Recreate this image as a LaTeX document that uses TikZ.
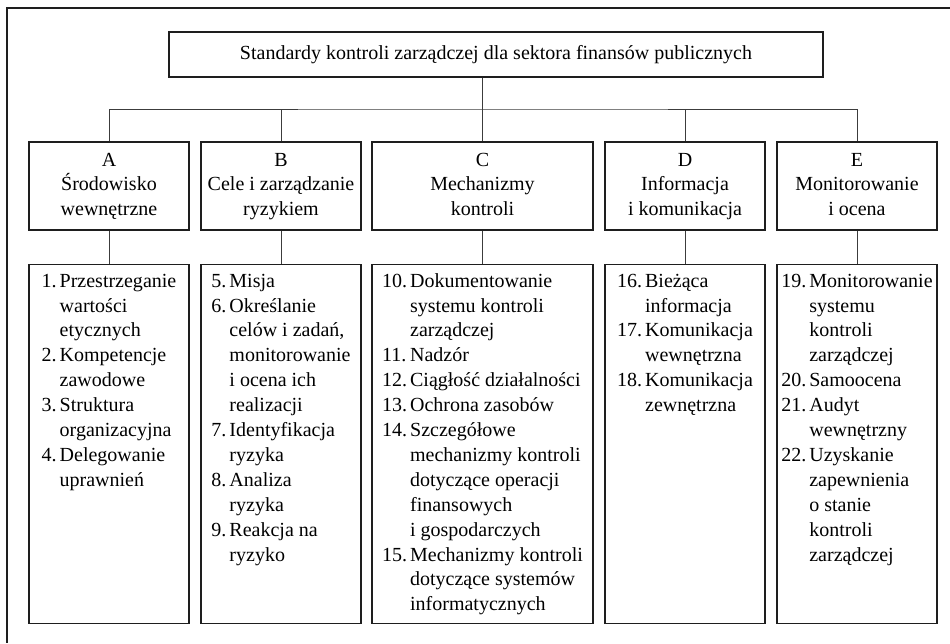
\documentclass[tikz,border=0pt]{standalone}
\usepackage{fontspec}
\setmainfont{Liberation Serif}
\usetikzlibrary{positioning}
\usepackage{xcolor}
\definecolor{FrameBlack}{HTML}{1E1E1E}
\definecolor{LinkGray}{HTML}{3C3C3C}
\newcommand{\chartfont}{\fontsize{20}{24.9}\selectfont}
\tikzset{
    % Box styles
    titlebox/.style={
        rectangle,
        draw=FrameBlack,
        line width=1.2pt,
        minimum width=654pt,
        minimum height=45pt,
        inner sep=0pt,
        align=center
    },
    areabox/.style={
        rectangle,
        draw=FrameBlack,
        line width=1.2pt,
        minimum width=160pt,
        minimum height=88pt,
        inner sep=0pt
    },
    listbox/.style={
        rectangle,
        draw=FrameBlack,
        line width=1.2pt,
        minimum width=160pt,
        minimum height=359pt,
        inner sep=0pt,
        anchor=north
    },
    listtext/.style={
        anchor=north,
        inner sep=0pt,
        yshift=-5.5pt
    },
    % Line styles
    link/.style={
        line width=1pt,
        draw=LinkGray
    },
    outerframe/.style={
        line width=1.6pt,
        draw=FrameBlack
    }
}

\begin{document}
\begin{tikzpicture}[x=1pt, y=-1pt, font=\chartfont]
    \useasboundingbox (0,0) rectangle (950,643);
    \draw[outerframe] (950,8) -- (7,8) -- (7,643);

    \node[titlebox] (title) at (496,54.5) {Standardy kontroli zarządczej dla sektora finansów publicznych};

    \node[areabox] (areaA) at (109,186) {\begin{tabular}{@{}c@{}}A\\Środowisko\\wewnętrzne\end{tabular}};
    \node[areabox] (areaB) at (281,186) {\begin{tabular}{@{}c@{}}B\\Cele i zarządzanie\\ryzykiem\end{tabular}};
    \node[areabox, minimum width=221pt] (areaC) at (482.5,186) {\begin{tabular}{@{}c@{}}C\\Mechanizmy\\kontroli\end{tabular}};
    \node[areabox] (areaD) at (685,186) {\begin{tabular}{@{}c@{}}D\\Informacja\\i komunikacja\end{tabular}};
    \node[areabox] (areaE) at (857,186) {\begin{tabular}{@{}c@{}}E\\Monitorowanie\\i ocena\end{tabular}};

    \node[listbox] (listA) at (109,264) {};
    \node[listbox] (listB) at (281,264) {};
    \node[listbox, minimum width=221pt] (listC) at (482.5,264) {};
    \node[listbox] (listD) at (685,264) {};
    \node[listbox] (listE) at (857,264) {};

    \node[listtext] (textA) at (listA.north) {\begin{tabular}{@{}l@{\hspace{3pt}}l@{}}
        1. & Przestrzeganie\\ & wartości\\ & etycznych\\
        2. & Kompetencje\\ & zawodowe\\
        3. & Struktura\\ & organizacyjna\\
        4. & Delegowanie\\ & uprawnień
    \end{tabular}};
    \node[listtext] (textB) at (listB.north) {\begin{tabular}{@{}l@{\hspace{3pt}}l@{}}
        5. & Misja\\
        6. & Określanie\\ & celów i zadań,\\ & monitorowanie\\ & i ocena ich\\ & realizacji\\
        7. & Identyfikacja\\ & ryzyka\\
        8. & Analiza\\ & ryzyka\\
        9. & Reakcja na\\ & ryzyko
    \end{tabular}};
    \node[listtext] (textC) at (listC.north) {\begin{tabular}{@{}l@{\hspace{3pt}}l@{}}
        10. & Dokumentowanie\\ & systemu kontroli\\ & zarządczej\\
        11. & Nadzór\\
        12. & Ciągłość działalności\\
        13. & Ochrona zasobów\\
        14. & Szczegółowe\\ & mechanizmy kontroli\\ & dotyczące operacji\\ & finansowych\\ & i gospodarczych\\
        15. & Mechanizmy kontroli\\ & dotyczące systemów\\ & informatycznych
    \end{tabular}};
    \node[listtext] (textD) at (listD.north) {\begin{tabular}{@{}l@{\hspace{3pt}}l@{}}
        16. & Bieżąca\\ & informacja\\
        17. & Komunikacja\\ & wewnętrzna\\
        18. & Komunikacja\\ & zewnętrzna
    \end{tabular}};
    \node[listtext] (textE) at (listE.north) {\begin{tabular}{@{}l@{\hspace{3pt}}l@{}}
        19. & Monitorowanie\\ & systemu\\ & kontroli\\ & zarządczej\\
        20. & Samoocena\\
        21. & Audyt\\ & wewnętrzny\\
        22. & Uzyskanie\\ & zapewnienia\\ & o stanie\\ & kontroli\\ & zarządczej
    \end{tabular}};

    % tree connectors
    \coordinate (bar) at (482.5,109);
    \draw[link] (title.south -| areaC.north) -- (areaC.north);
    \draw[link] (areaA.north) |- (bar) -| (areaE.north);
    \draw[link] (areaB.north) -- (areaB.north |- bar);
    \draw[link] (areaD.north) -- (areaD.north |- bar);

    \draw[link] (areaA) -- (listA);
    \draw[link] (areaB) -- (listB);
    \draw[link] (areaC) -- (listC);
    \draw[link] (areaD) -- (listD);
    \draw[link] (areaE) -- (listE);
\end{tikzpicture}
\end{document}
